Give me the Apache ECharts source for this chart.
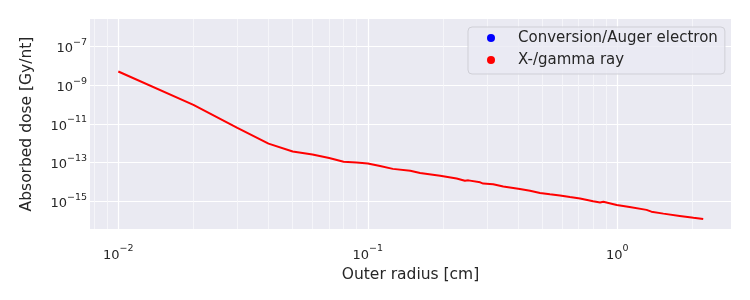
<!DOCTYPE html>
<html>
<head>
<meta charset="utf-8">
<script src="https://cdn.jsdelivr.net/npm/echarts@6/dist/echarts.min.js"></script>
<style>html,body{margin:0;padding:0;background:#fff}#c{width:750px;height:300px}</style>
</head>
<body>
<div id="c"></div>
<script>
// Outer radius [cm]
const radiusXray = [0.01,0.02,0.03,0.04,0.05,0.06,0.07,0.08,0.09,0.10,
  0.112,0.126,0.148,0.162,0.195,0.227,0.245,0.253,0.282,0.290,0.318,0.349,0.407,0.447,0.490,0.537,0.589,0.646,0.709,
  0.80,0.853,0.879,0.995,1.12,1.31,1.37,1.53,1.78,2.02,2.21];
// Absorbed dose [Gy/nt]
const doseXray = [5.0e-9,9.5e-11,6.2e-12,9.5e-13,3.7e-13,2.6e-13,1.7e-13,1.1e-13,1.0e-13,8.9e-14,
  6.6e-14,4.7e-14,3.8e-14,2.9e-14,2.1e-14,1.5e-14,1.15e-14,1.2e-14,9.5e-15,8.2e-15,7.6e-15,5.8e-15,4.3e-15,3.5e-15,2.7e-15,2.3e-15,2.0e-15,1.65e-15,1.4e-15,
  1.0e-15,8.6e-16,9.4e-16,6.4e-16,5.1e-16,3.6e-16,2.9e-16,2.3e-16,1.75e-16,1.4e-16,1.2e-16];
const radiusElectron = [];
const doseElectron = [];
const seriesNames = ['Conversion/Auger electron','X-/gamma ray'];
const xMajorTicks = [0.01, 0.1, 1];
const xMinorTicks = [0.008,0.009,0.02,0.03,0.04,0.05,0.06,0.07,0.08,0.09,0.2,0.3,0.4,0.5,0.6,0.7,0.8,0.9,2];
const yMajorTicks = [1e-15,1e-13,1e-11,1e-9,1e-7];
const xRange = [0.0077, 2.856];
const yRange = [3.7e-17, 2.57e-6];

const L = v => Math.log10(v);
const textColor = '#262626';
const FONT = 'DejaVu Sans';
const sup = v => {
  const e = Math.round(v);
  return '{b|10}{s|' + String(e).replace('-', '\u2212') + '}';
};
const rich = {
  b: {fontSize: 13, color: textColor, fontFamily: FONT, lineHeight: 18, verticalAlign: 'bottom'},
  s: {fontSize: 9.5, color: textColor, fontFamily: FONT, lineHeight: 18, verticalAlign: 'top'}
};
const chart = echarts.init(document.getElementById('c'), null, {renderer: 'canvas'});
chart.setOption({
  animation: false,
  backgroundColor: '#ffffff',
  textStyle: {fontFamily: FONT},
  grid: {left: 90, right: 19, top: 19, bottom: 71, show: true, backgroundColor: '#EAEAF2', borderWidth: 0},
  xAxis: [{
    type: 'value', min: L(xRange[0]), max: L(xRange[1]),
    name: 'Outer radius [cm]', nameLocation: 'middle', nameGap: 37,
    nameTextStyle: {fontSize: 15.5, color: textColor, fontFamily: FONT},
    axisLine: {show: false}, axisTick: {show: false, customValues: xMajorTicks.map(L)},
    axisLabel: {customValues: xMajorTicks.map(L), formatter: sup, rich: rich, margin: 15},
    splitLine: {show: true, lineStyle: {color: '#ffffff', width: 1.2}},
    z: 3
  }, {
    type: 'value', min: L(xRange[0]), max: L(xRange[1]), position: 'top',
    axisLine: {show: false}, axisTick: {show: false, customValues: xMinorTicks.map(L)},
    axisLabel: {show: false},
    splitLine: {show: true, lineStyle: {color: '#f7f7fa', width: 0.8}},
    z: 2
  }],
  yAxis: [{
    type: 'value', min: L(yRange[0]), max: L(yRange[1]),
    name: 'Absorbed dose [Gy/nt]', nameLocation: 'middle', nameGap: 55,
    nameTextStyle: {fontSize: 15.5, color: textColor, fontFamily: FONT},
    axisLine: {show: false}, axisTick: {show: false, customValues: yMajorTicks.map(L)},
    axisLabel: {customValues: yMajorTicks.map(L), formatter: sup, rich: rich, margin: 3},
    splitLine: {show: true, lineStyle: {color: '#ffffff', width: 1.2}}
  }],
  legend: {
    orient: 'vertical', left: 468, top: 27, icon: 'circle',
    itemWidth: 8, itemHeight: 8, itemGap: 6,
    padding: [3, 7, 6, 19],
    backgroundColor: 'rgba(234,234,242,0.8)', borderColor: '#cfcfd6', borderWidth: 1, borderRadius: 4,
    textStyle: {fontSize: 15, color: textColor, fontFamily: FONT, lineHeight: 16, padding: [0, 0, 0, 18]},
    data: seriesNames
  },
  series: [{
    name: seriesNames[0], type: 'line', showSymbol: false, symbol: 'none',
    color: '#0000ff', lineStyle: {width: 2},
    data: radiusElectron.map((x, i) => [L(x), L(doseElectron[i])])
  }, {
    name: seriesNames[1], type: 'line', showSymbol: false, symbol: 'none',
    color: '#ff0000', lineStyle: {width: 2},
    data: radiusXray.map((x, i) => [L(x), L(doseXray[i])])
  }]
});
</script>
</body>
</html>
